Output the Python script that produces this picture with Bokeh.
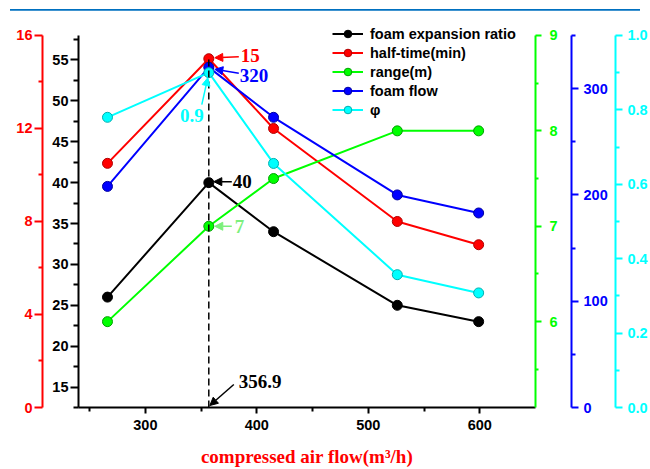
from bokeh.plotting import figure
from bokeh.layouts import column
from bokeh.models import (Range1d, LinearAxis, FixedTicker, PrintfTickFormatter, Div,
                          Legend, LegendItem, Arrow, NormalHead, Label)
from bokeh.embed import file_html
from bokeh.resources import INLINE

# ---- data ----
air_flow = [266, 356.9, 415, 526, 599]
expansion_ratio = [26, 40, 34, 25, 23]
half_time = [10.5, 15, 12, 8, 7]
range_m = [6, 7, 7.5, 8, 8]
foam_flow = [208, 320, 273, 200, 183]
phi = [0.78, 0.9, 0.656, 0.357, 0.308]

x_ticks = [300, 400, 500, 600]
x_minor = [250, 350, 450, 550]
black_ticks = [15, 20, 25, 30, 35, 40, 45, 50, 55]
black_minor = [12.5, 17.5, 22.5, 27.5, 32.5, 37.5, 42.5, 47.5, 52.5, 57.5]
red_ticks = [0, 4, 8, 12, 16]
red_minor = [2, 6, 10, 14]
green_ticks = [6, 7, 8, 9]
green_minor = [5.5, 6.5, 7.5, 8.5]
blue_ticks = [0, 100, 200, 300]
blue_minor = [50, 150, 250, 350]
cyan_ticks = [0, 0.2, 0.4, 0.6, 0.8, 1.0]
cyan_minor = [0.1, 0.3, 0.5, 0.7, 0.9]

X0, X1 = 240, 650
BLACK = (12.5, 58.0)
RED = (0, 16)
GREEN = (5.1, 9)
BLUE = (0, 350)
CYAN = (0, 1)

AXIS_H = 373     # visible height of the value axes (px)
EXTRA = 15       # frame extends above the axes' end to leave room for the legend


def ext(r):
    lo, hi = r
    return Range1d(lo, hi + (hi - lo) * EXTRA / AXIS_H)


p = figure(width=650, height=459, x_range=Range1d(X0, X1), y_range=ext(BLACK),
           output_backend="svg", toolbar_location=None,
           min_border_left=78, min_border_right=115, min_border_top=10, min_border_bottom=61)
p.margin = 0
p.extra_y_ranges = {"red": ext(RED), "green": ext(GREEN),
                    "blue": ext(BLUE), "cyan": ext(CYAN)}
p.outline_line_color = None
p.xgrid.visible = False
p.ygrid.visible = False
p.background_fill_color = "white"
p.border_fill_color = "white"

SANS = "Liberation Sans"
SERIF = "Liberation Serif"


def style_axis(ax, color, ticks, minor, tick_out, standoff, minor_out=4):
    ax.ticker = FixedTicker(ticks=ticks, minor_ticks=minor)
    ax.axis_line_color = color
    ax.axis_line_width = 2
    ax.major_tick_line_color = color
    ax.major_tick_line_width = 2
    ax.minor_tick_line_color = color
    ax.minor_tick_line_width = 2
    ax.major_tick_in = 0
    ax.major_tick_out = tick_out
    ax.minor_tick_in = 0
    ax.minor_tick_out = minor_out
    ax.major_label_text_color = color
    ax.major_label_text_font = SANS
    ax.major_label_text_font_style = "bold"
    ax.major_label_text_font_size = "14.5px"
    ax.major_label_standoff = standoff


def pad(ax, n):
    ax.axis_label = " "
    ax.axis_label_text_font_size = "1px"
    ax.axis_label_standoff = n


# x axis
xa = p.xaxis[0]
style_axis(xa, "black", x_ticks, x_minor, 6, 6)
xa.axis_label = "compressed air flow(m³/h)"
xa.axis_label_text_color = "#FF0000"
xa.axis_label_text_font = SERIF
xa.axis_label_text_font_style = "bold"
xa.axis_label_text_font_size = "19px"
xa.axis_label_standoff = 13

# black left axis (default)
ya = p.yaxis[0]
style_axis(ya, "black", black_ticks, black_minor, 8, 2, 5)
ya.bounds = BLACK
pad(ya, 3)

# red left axis
ra = LinearAxis(y_range_name="red", bounds=RED)
style_axis(ra, "#FF0000", red_ticks, red_minor, 8, 2)
p.add_layout(ra, "left")

# right axes
ga = LinearAxis(y_range_name="green", bounds=GREEN)
style_axis(ga, "#00FF00", green_ticks, green_minor, 6, 8, 3)
pad(ga, 7)
p.add_layout(ga, "right")

ba = LinearAxis(y_range_name="blue", bounds=BLUE)
style_axis(ba, "#0000FF", blue_ticks, blue_minor, 7, 5)
pad(ba, 1)
p.add_layout(ba, "right")

ca = LinearAxis(y_range_name="cyan", bounds=CYAN)
style_axis(ca, "#00FFFF", cyan_ticks, cyan_minor, 7, 5)
ca.formatter = PrintfTickFormatter(format="%.1f")
p.add_layout(ca, "right")

# ---- series ----
series = [
    ("foam expansion ratio", expansion_ratio, "default", "#000000", "#000000"),
    ("half-time(min)", half_time, "red", "#FF0000", "#B00000"),
    ("range(m)", range_m, "green", "#00FF00", "#00A000"),
    ("foam flow", foam_flow, "blue", "#0000FF", "#0000A0"),
    ("φ", phi, "cyan", "#00FFFF", "#00B0B0"),
]
items = []
for name, ys, rng, col, edge in series:
    kw = {} if rng == "default" else {"y_range_name": rng}
    ln = p.line(air_flow, ys, line_color=col, line_width=2, **kw)
    sc = p.scatter(air_flow, ys, size=10, fill_color=col, line_color=edge, line_width=1, **kw)
    items.append(LegendItem(label=name, renderers=[ln, sc]))

legend = Legend(items=items, location=(254, 288), padding=0, margin=0, spacing=0,
                glyph_width=31, glyph_height=19, label_height=19, label_standoff=7,
                label_text_font=SANS, label_text_font_style="bold",
                label_text_font_size="14.5px", label_text_color="black",
                background_fill_alpha=0, border_line_color=None)
p.add_layout(legend, "center")

# ---- annotations ----
FW = 457
px_x = FW / (X1 - X0)
px_y = {"default": AXIS_H / (BLACK[1] - BLACK[0]), "red": AXIS_H / (RED[1] - RED[0]),
        "green": AXIS_H / (GREEN[1] - GREEN[0]), "blue": AXIS_H / (BLUE[1] - BLUE[0]),
        "cyan": AXIS_H / (CYAN[1] - CYAN[0])}

xp = air_flow[1]

# dashed vertical line at the optimum
p.segment(x0=[xp], y0=[RED[0]], x1=[xp], y1=[half_time[1]], y_range_name="red",
          line_color="black", line_width=1.5, line_dash="7 4")


def arrow(rng, y0, color, sdx, sdy, edx, edy):
    kw = {} if rng == "default" else {"y_range_name": rng}
    k = px_y[rng]
    a = Arrow(x_start=xp + sdx / px_x, y_start=y0 - sdy / k,
              x_end=xp + edx / px_x, y_end=y0 - edy / k,
              line_color=color, line_width=1.5,
              end=NormalHead(size=8, fill_color=color, line_color=color), **kw)
    p.add_layout(a)


def label(rng, y0, text, color, ox, oy, align="left"):
    kw = {} if rng == "default" else {"y_range_name": rng}
    lb = Label(x=xp, y=y0, text=text, x_offset=ox, y_offset=-oy,
               text_font=SERIF, text_font_style="bold", text_font_size="19px",
               text_color=color, text_align=align, text_baseline="middle", **kw)
    p.add_layout(lb)


arrow("red", half_time[1], "#FF0000", 30, -2, 6, -1)
label("red", half_time[1], "15", "#FF0000", 32, -3)

arrow("blue", foam_flow[1], "#0000FF", 30, 6, 6, 2)
label("blue", foam_flow[1], "320", "#0000FF", 31, 8)

arrow("cyan", phi[1], "#00FFFF", -7, 32, -1, 5)
label("cyan", phi[1], "0.9", "#00FFFF", -17, 43, "center")

arrow("default", expansion_ratio[1], "#000000", 23, -1, 5, -1)
label("default", expansion_ratio[1], "40", "#000000", 24, -1)

arrow("green", range_m[1], "#7CF07C", 23, 0, 6, 0)
label("green", range_m[1], "7", "#7CF07C", 26, 0)

arrow("red", RED[0], "#000000", 25, -23, 1, -2)
label("red", RED[0], "356.9", "#000000", 30, -26)

# top decorative rule of the page
rule = Div(text='<div style="margin-left:10px;margin-top:6px;width:630px;height:3px;'
                'background:#0070C0"></div>', width=650, height=10, margin=0)

layout = column(rule, p, spacing=0)
open("out.html", "w").write(file_html(layout, INLINE))
